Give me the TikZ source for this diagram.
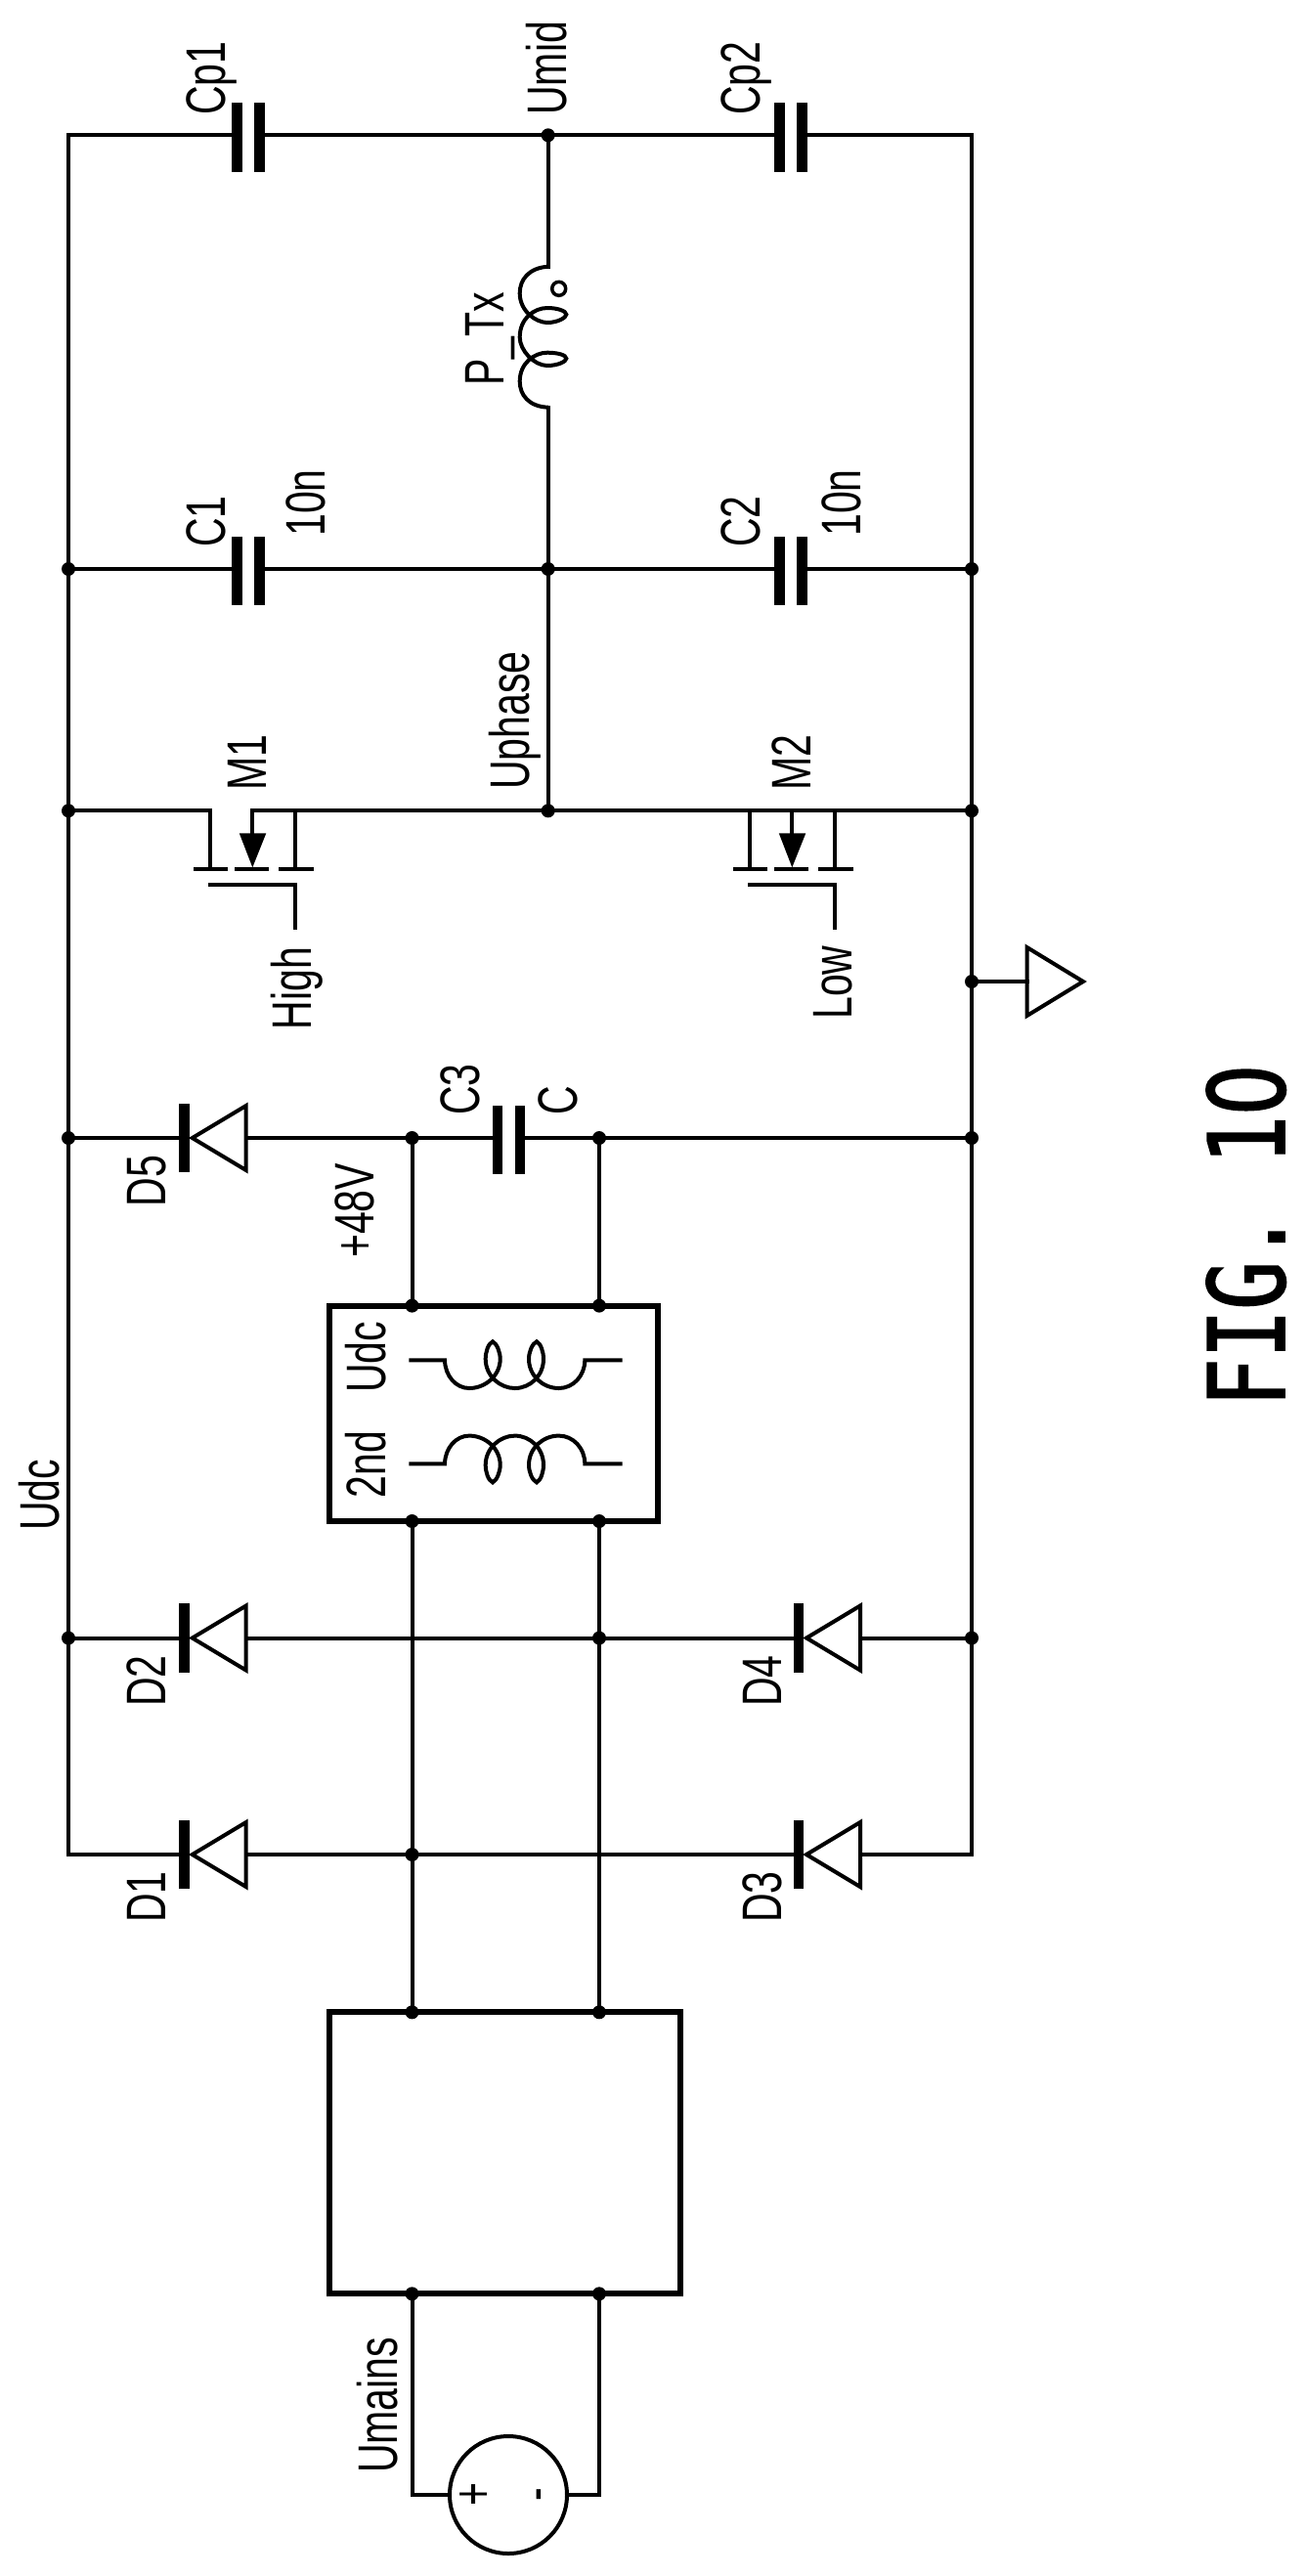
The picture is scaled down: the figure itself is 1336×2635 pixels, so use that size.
\documentclass[tikz,border=0pt]{standalone}
\usepackage{fontspec}
\setmainfont[FakeStretch=0.72]{Liberation Sans}
\newfontfamily\figfont[FakeStretch=0.763,FakeBold=1.5]{DejaVu Sans Mono}
\newfontfamily\zerofont[FakeStretch=0.763,FakeBold=1.5]{DejaVu Sans}
\newcommand{\capat}[2]{%
  \coordinate (#1a) at ([xshift=-11.5pt]#2);
  \coordinate (#1b) at ([xshift=11.5pt]#2);
  \node [plate] (#1p) at ([yshift=-2pt]#1a) {};
  \node [plate] (#1q) at ([yshift=-2pt]#1b) {};
}
\newcommand{\diodeat}[2]{%
  \node [plate] (#1k) at (#2) {};
  \coordinate (#1t) at ([xshift=8pt]#1k.center);
  \coordinate (#1a) at ([xshift=63pt]#1k.center);
  \draw[part] (#1t) -- ([yshift=33pt]#1a) -- ([yshift=-33pt]#1a) -- cycle;
}
\newcommand{\mosfet}[2]{%
  \begin{scope}[shift={(#2)}]
    \coordinate (#1a) at (0,0);
    \coordinate (#1b) at (43,0);
    \coordinate (#1c) at (87,0);
    \draw[part] (0,0) -- (0,60) (-17.5,60) -- (17.5,60);
    \draw[part] (43,0) -- (43,24) (25,60) -- (60,60);
    \draw[part] (87,0) -- (87,60) (70,60) -- (105.5,60);
    \fill (29.5,23) -- (57,23) -- (43,58) -- cycle;
    \draw[part] (-2,76) -- (87,76) -- (87,122);
  \end{scope}
}
\tikzset{coil/.pic={
  \draw[part] (0,0) -- (36.7,0)
    .. controls (37,16) and (48,28.7) .. (61.7,28.7)
    .. controls (78,28.7) and (93.4,16) .. (93.4,-1.3)
    .. controls (93.4,-8) and (90,-17) .. (85.7,-19)
    .. controls (81,-17) and (78.4,-8) .. (78.4,-1.3)
    .. controls (78.4,16) and (93,28.7) .. (108.4,28.7)
    .. controls (124,28.7) and (137.7,16) .. (137.7,-1.3)
    .. controls (137.7,-8) and (135,-17) .. (130.7,-19)
    .. controls (126,-17) and (122.7,-8) .. (122.7,-1.3)
    .. controls (122.7,16) and (137,28.7) .. (153.4,28.7)
    .. controls (168,28.7) and (180,16) .. (180,0) -- (218.4,0);
}}
\begin{document}
\begin{tikzpicture}[x=1pt,y=-1pt]
  \tikzstyle{wire}=[draw,line width=4pt,line cap=rect]
  \tikzstyle{part}=[draw,line width=4pt]
  \tikzstyle{dot}=[circle,fill=black,inner sep=0pt,minimum size=14pt]
  \tikzstyle{plate}=[rectangle,fill=black,inner sep=0pt,minimum width=10.5pt,minimum height=70.5pt]
  \tikzstyle{block}=[rectangle,draw,line width=6pt,inner sep=0pt]
  \tikzstyle{lab}=[rotate=90,anchor=base west,inner sep=0pt,font=\fontsize{57}{60}\selectfont]
  \useasboundingbox (0,0) rectangle (1336,2635);

  % rails and corners
  \coordinate (tl) at (70,138.3);
  \coordinate (tr) at (994,138.3);
  \coordinate (bl) at (70,1897);
  \coordinate (br) at (994,1897);
  \node [dot] (l1) at (70,582) {};
  \node [dot] (l2) at (70,829.3) {};
  \node [dot] (l3) at (70,1164) {};
  \node [dot] (l4) at (70,1675.5) {};
  \node [dot] (r1) at (994,582) {};
  \node [dot] (r2) at (994,829.3) {};
  \node [dot] (r3) at (994,1004) {};
  \node [dot] (r4) at (994,1164) {};
  \node [dot] (r5) at (994,1675.5) {};
  \node [dot] (umid) at (560.7,138.3) {};
  \node [dot] (m1) at (560.7,582) {};
  \node [dot] (m2) at (560.7,829.3) {};
  \path[wire] (tl) edge (l1) (l1) edge (l2) (l2) edge (l3) (l3) edge (l4) (l4) edge (bl);
  \path[wire] (tr) edge (r1) (r1) edge (r2) (r2) edge (r3) (r3) edge (r4) (r4) edge (r5) (r5) edge (br);

  % capacitors
  \capat{cp1}{254,138.3}
  \capat{cp2}{809,138.3}
  \capat{c1}{254,582}
  \capat{c2}{809,582}
  \capat{c3}{520.5,1164}
  \path[wire] (tl) edge (cp1a) (cp1b) edge (umid) (umid) edge (cp2a) (cp2b) edge (tr);
  \path[wire] (l1) edge (c1a) (c1b) edge (m1) (m1) edge (c2a) (c2b) edge (r1);

  % primary winding
  \coordinate (lpa) at (560.7,272.7);
  \coordinate (lpb) at (560.7,416.7);
  \path[wire] (umid) edge (lpa) (lpb) edge (m1) (m1) edge (m2);
  \draw[part] (lpa) .. controls (541,274) and (531.7,286) .. (531.7,300)
    .. controls (531.7,318) and (548,330) .. (560,330)
    .. controls (570,330) and (579.3,325) .. (579.3,321.7)
    .. controls (579.3,318) and (570,315) .. (560,315)
    .. controls (546,315) and (531.7,326) .. (531.7,345)
    .. controls (531.7,358) and (546,374) .. (560,374)
    .. controls (570,374) and (579.3,370) .. (579.3,366.7)
    .. controls (579.3,363) and (570,360.7) .. (560,360.7)
    .. controls (546,360.7) and (531.7,372) .. (531.7,390)
    .. controls (531.7,404) and (541,416) .. (lpb);
  \node [circle,draw,line width=3.5pt,inner sep=0pt,minimum size=14pt] (ldot) at (571.7,295.3) {};

  % half bridge
  \mosfet{qa}{215.3,829.3}
  \mosfet{qb}{767.3,829.3}
  \path[wire] (l2) edge (qaa) (qab) edge (qac) (qac) edge (m2) (m2) edge (qba);
  \path[wire] (qba) edge (qbb) (qbb) edge (qbc) (qbc) edge (r2);

  % ground
  \coordinate (gnd) at (1050.5,1004);
  \path[wire] (r3) edge (gnd);
  \draw[part] (1050.5,969) -- (1108,1004) -- (1050.5,1039) -- cycle;

  % diodes
  \diodeat{d5}{188.7,1164}
  \diodeat{d2}{188.7,1675.5}
  \diodeat{d1}{188.7,1897}
  \diodeat{d4}{817,1675.5}
  \diodeat{d3}{817,1897}

  % blocks
  \node [block,minimum width=335.6pt,minimum height=220.4pt] (trafo) at (504.8,1445.8) {};
  \node [block,minimum width=359pt,minimum height=288pt] (rect) at (516.5,2202.3) {};
  \node [dot] (p1) at (421.5,1164) {};
  \node [dot] (p2) at (613,1164) {};
  \node [dot] (t1) at (421.5,1335.6) {};
  \node [dot] (t2) at (613,1335.6) {};
  \node [dot] (t3) at (421.5,1556) {};
  \node [dot] (t4) at (613,1556) {};
  \node [dot] (x2) at (613,1675.5) {};
  \node [dot] (x1) at (421.5,1897) {};
  \node [dot] (b1) at (421.5,2058.3) {};
  \node [dot] (b2) at (613,2058.3) {};
  \node [dot] (b3) at (421.5,2346.3) {};
  \node [dot] (b4) at (613,2346.3) {};
  \coordinate (x3) at (421.5,1675.5);
  \coordinate (x4) at (613,1897);
  \path[wire] (l3) edge (d5k) (d5a) edge (p1) (p1) edge (c3a) (c3b) edge (p2) (p2) edge (r4);
  \path[wire] (p1) edge (t1) (p2) edge (t2);
  \path[wire] (t3) edge (x3) (x3) edge (x1) (x1) edge (b1);
  \path[wire] (t4) edge (x2) (x2) edge (x4) (x4) edge (b2);
  \path[wire] (l4) edge (d2k) (d2a) edge (x3) (x3) edge (x2) (x2) edge (d4k) (d4a) edge (r5);
  \path[wire] (bl) edge (d1k) (d1a) edge (x1) (x1) edge (x4) (x4) edge (d3k) (d3a) edge (br);

  % transformer windings
  \pic at (418.3,1391.3) {coil};
  \pic[yscale=-1] at (418.3,1497.3) {coil};

  % mains source
  \node [circle,draw,line width=4pt,inner sep=0pt,minimum size=120pt] (src) at (520,2552) {};
  \coordinate (sa) at (421.5,2552);
  \coordinate (sb) at (613,2552);
  \path[wire] (b3) edge (sa) (sa) edge (src) (src) edge (sb) (sb) edge (b4);
  \node [lab,anchor=center] (plus) at (487,2551) {+};
  \node [lab,anchor=center] (minus) at (558,2552) {-};

  % labels
  \node [lab] (lcp1) at (230,118) {Cp1};
  \node [lab] (lumid) at (579,118) {Umid};
  \node [lab] (lcp2) at (777,118) {Cp2};
  \node [lab] (lc1) at (230,560) {C1};
  \node [lab] (lv1) at (332,549) {10n};
  \node [lab] (lc2) at (777,560) {C2};
  \node [lab] (lv2) at (880,549) {10n};
  \node [lab] (lptx) at (515,395) {P\_Tx};
  \node [lab] (lup) at (541,808) {Uphase};
  \node [lab] (lm1) at (272.6,808.6) {M1};
  \node [lab] (lm2) at (829,808.6) {M2};
  \node [lab] (lhi) at (318,1053.5) {High};
  \node [lab] (llo) at (871,1043) {Low};
  \node [lab] (ld5) at (169,1234.5) {D5};
  \node [lab] (l48) at (382,1287) {+48V};
  \node [lab] (lc3) at (490,1141) {C3};
  \node [lab] (lc) at (590,1141) {C};
  \node [lab] (ludc) at (60,1566) {Udc};
  \node [lab] (l2nd) at (394,1532.5) {2nd};
  \node [lab] (lud2) at (394,1425) {Udc};
  \node [lab] (ld2) at (169,1746) {D2};
  \node [lab] (ld4) at (799,1746) {D4};
  \node [lab] (ld1) at (169,1967) {D1};
  \node [lab] (ld3) at (799,1967) {D3};
  \node [lab] (lum) at (406,2530) {Umains};
  \node [lab,font=\fontsize{108}{112}\selectfont] (fig) at (1314,1439) {\figfont FIG. 1\zerofont 0};
\end{tikzpicture}
\end{document}
